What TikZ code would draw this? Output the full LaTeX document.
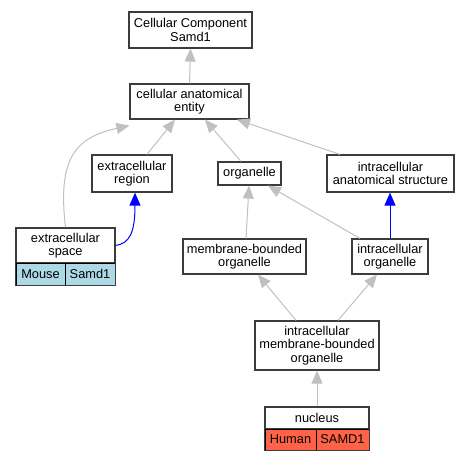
\documentclass[tikz,border=0pt]{standalone}
\usepackage{fontspec}
\setmainfont{Liberation Sans}
\usetikzlibrary{arrows.meta}
\definecolor{edgegray}{RGB}{192,192,192}
\definecolor{boxborder}{RGB}{60,60,60}
\definecolor{mouseblue}{RGB}{173,216,230}
\definecolor{humanred}{RGB}{255,99,71}
\tikzset{
  term/.style={draw=boxborder, line width=1.2pt, fill=white, inner sep=0pt, align=center,
    font=\fontsize{12.8}{13.3}\selectfont},
  cell/.style={draw=black, line width=0.8pt, inner sep=0pt,
    font=\fontsize{12.8}{13.3}\selectfont},
  edge/.style={draw=edgegray, line width=1pt, -{Triangle[length=13pt,width=11pt]}},
  blueedge/.style={draw=blue, line width=1pt, -{Triangle[length=13pt,width=11pt]}},
}
\begin{document}
\begin{tikzpicture}[x=1pt,y=-1pt]
\useasboundingbox (0,0) rectangle (471,461);
% nodes
\node[term, minimum width=123pt, minimum height=36pt] (cc) at (190.5,30) {Cellular Component\\Samd1};
\node[term, minimum width=119pt, minimum height=35pt] (cae) at (189.5,101.5) {cellular anatomical\\entity};
\node[term, minimum width=80pt, minimum height=37pt] (er) at (132,173.5) {extracellular\\region};
\node[term, minimum width=63pt, minimum height=23pt] (org) at (249.5,173.5) {organelle};
\node[term, minimum width=127pt, minimum height=37pt] (ias) at (390.5,173.5) {intracellular\\anatomical structure};
\node[term, minimum width=99pt, minimum height=35pt] (es) at (65.5,245.5) {extracellular\\space};
\node[cell, fill=mouseblue, minimum width=49pt, minimum height=22pt] (esA) at (40.5,274) {Mouse};
\node[cell, fill=mouseblue, minimum width=50pt, minimum height=22pt] (esB) at (90,274) {Samd1};
\draw[boxborder, line width=1.2pt] (es.north west) rectangle (esB.south east);
\node[term, minimum width=123pt, minimum height=35pt] (mbo) at (244.5,256.5) {membrane-bounded\\organelle};
\node[term, minimum width=76pt, minimum height=35pt] (io) at (390,256.5) {intracellular\\organelle};
\node[term, minimum width=124pt, minimum height=49pt] (imbo) at (317,345.5) {intracellular\\membrane-bounded\\organelle};
\node[term, minimum width=104pt, minimum height=22pt] (nuc) at (317,418) {nucleus};
\node[cell, fill=humanred, minimum width=51pt, minimum height=21pt] (nucA) at (290.5,439.5) {Human};
\node[cell, fill=humanred, minimum width=53pt, minimum height=21pt] (nucB) at (342.5,439.5) {SAMD1};
\draw[boxborder, line width=1.2pt] (nuc.north west) rectangle (nucB.south east);
% edges
\draw[edge] (cae.north) -- (cc.south);
\draw[edge] (es.north) .. controls +(-8,-68) and +(-55,12) .. ([yshift=-6pt]cae.south west);
\draw[edge] ([xshift=15pt]er.north) -- ([xshift=-14.5pt]cae.south);
\draw[edge] ([xshift=-8.5pt]org.north) -- ([xshift=15.5pt]cae.south);
\draw[edge] ([xshift=-50.5pt]ias.north) -- ([xshift=47.5pt]cae.south);
\draw[blueedge] (es.east) .. controls +(14,-2) and +(0,40) .. ([xshift=3pt]er.south);
\draw[edge] ([xshift=1.5pt]mbo.north) -- ([xshift=-0.5pt]org.south);
\draw[edge] ([xshift=-30pt]io.north) -- ([xshift=18.5pt]org.south);
\draw[blueedge] (io.north) -- (io.north |- ias.south);
\draw[edge] ([xshift=-21pt]imbo.north) -- ([xshift=13.5pt]mbo.south);
\draw[edge] ([xshift=21pt]imbo.north) -- ([xshift=-13pt]io.south);
\draw[edge] (nuc.north) -- (imbo.south);
\end{tikzpicture}
\end{document}
